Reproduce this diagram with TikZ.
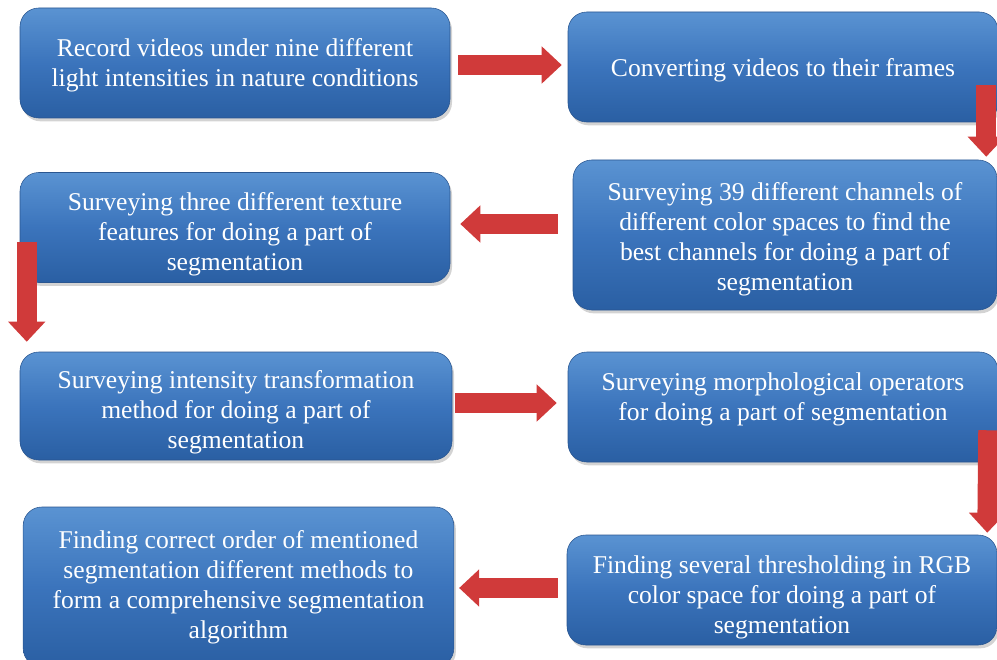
\documentclass[tikz,border=0pt]{standalone}
\usepackage{fontspec}
\setmainfont{Liberation Serif}
\usetikzlibrary{calc,shadows,arrows.meta}
\definecolor{boxtop}{HTML}{5A93D2}
\definecolor{boxmid}{HTML}{3B74BC}
\definecolor{boxbot}{HTML}{2A5FA3}
\definecolor{boxedge}{HTML}{2A5690}
\definecolor{arrowred}{HTML}{D03A3A}
\begin{document}
\begin{tikzpicture}[x=0.75pt,y=-0.75pt,
    stage/.style={draw=boxedge,thin,rounded corners=14pt,
        top color=boxtop,bottom color=boxbot,middle color=boxmid,
        drop shadow={shadow xshift=1.5pt,shadow yshift=-2.5pt,opacity=0.35},
        minimum width=322.5pt,minimum height=82.5pt},
    caption/.style={text=white,align=center,inner sep=0pt,
        font=\fontsize{19.2}{22.5}\selectfont},
    flow/.style={line width=15pt,arrowred,-{Triangle[width=27pt,length=15pt]}}]
    \clip (0,0) rectangle (997,660);

    % boxes
    \node[stage] (b1) at (235,63) {};
    \node[stage] (b2) at (783,67) {};
    \node[stage,minimum width=318pt,minimum height=112.5pt] (b3) at (785,235) {};
    \node[stage] (b4) at (235,227.5) {};
    \node[stage,minimum width=324pt,minimum height=81pt] (b5) at (236,406) {};
    \node[stage] (b6) at (783,407) {};
    \node[stage] (b7) at (782,590) {};
    \node[stage,minimum width=323pt,minimum height=120pt] (b8) at (238.5,587) {};

    % texts
    \node[caption] (t1) at ($(b1)+(0,2.5)$) {Record videos under nine different\\light intensities in nature conditions};
    \node[caption] (t2) at ($(b2)+(0,3)$) {Converting videos to their frames};
    \node[caption] (t3) at ($(b3)+(0,4)$) {Surveying 39 different channels of\\different color spaces to find the\\best channels for doing a part of\\segmentation};
    \node[caption] (t4) at ($(b4)+(0,7)$) {Surveying three different texture\\features for doing a part of\\segmentation};
    \node[caption] (t5) at ($(b5)+(0,6.5)$) {Surveying intensity transformation\\method for doing a part of\\segmentation};
    \node[caption] (t6) at ($(b6)+(0,-7.5)$) {Surveying morphological operators\\for doing a part of segmentation};
    \node[caption] (t7) at ($(b7)+(0,7.5)$) {Finding several thresholding in RGB\\color space for doing a part of\\segmentation};
    \node[caption] (t8) at ($(b8)+(0,0.5)$) {Finding correct order of mentioned\\segmentation different methods to\\form a comprehensive segmentation\\algorithm};

    % arrows
    \draw[flow] ($(b1.east)+(8,2)$) -- ($(b2.west)+(-6,-2)$);
    \draw[flow] ($(b2.south east)+(-12,-37)$) -- ($(b3.north east)+(-11,-3)$);
    \draw[flow] ($(b3.west)+(-15,-11)$) -- ($(b4.east)+(10,-3.5)$);
    \draw[flow] ($(b4.south west)+(7,-41)$) -- ($(b5.north west)+(7,-10)$);
    \draw[flow] ($(b5.east)+(3,-3)$) -- ($(b6.west)+(-11,-4)$);
    \draw[flow] ($(b6.south east)+(-10,-32)$) -- ($(b7.north east)+(-10,-2)$);
    \draw[flow] ($(b7.west)+(-9,-2)$) -- ($(b8.east)+(5,1)$);
\end{tikzpicture}
\end{document}
